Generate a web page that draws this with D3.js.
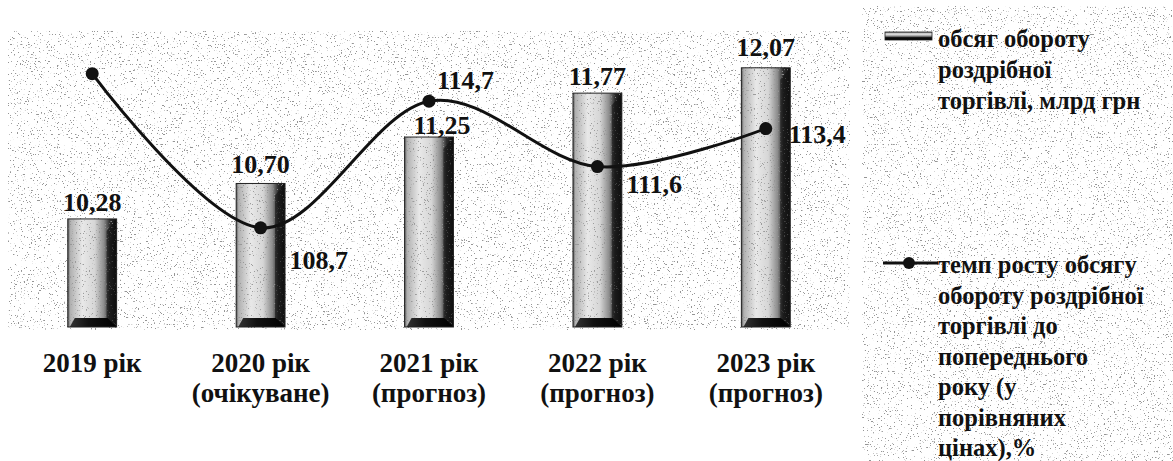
<!DOCTYPE html>
<html>
  <head>
    <meta charset="utf-8">
    <title>Оборот роздрібної торгівлі</title>
    <style>
      body { margin: 0; background: #fff; }
      svg { display: block; }
      text { font-family: "Liberation Serif", "Times New Roman", serif; fill: #111; }
    </style>
    <script src="https://d3js.org/d3.v7.min.js"></script>
  </head>
  <body>
    <svg id="chart"></svg>
    <script>
      // data
      var years = ["2019 рік", "2020 рік", "2021 рік", "2022 рік", "2023 рік"];
      var notes = ["", "(очікуване)", "(прогноз)", "(прогноз)", "(прогноз)"];
      var turnover = [10.28, 10.70, 11.25, 11.77, 12.07];        // млрд грн
      var turnoverLabels = ["10,28", "10,70", "11,25", "11,77", "12,07"];
      var growth = [116.0, 108.7, 114.7, 111.6, 113.4];           // %
      var growthLabels = ["", "108,7", "114,7", "111,6", "113,4"];
      var legendBar = ["обсяг обороту", "роздрібної", "торгівлі, млрд грн"];
      var legendLine = ["темп росту обсягу", "обороту роздрібної", "торгівлі до",
                        "попереднього", "року (у", "порівняних", "цінах),%"];

      var width = 1173, height = 461;
      var plot = {left: 8, right: 850, top: 31.5, bottom: 327};

      var svg = d3.select("#chart").attr("width", width).attr("height", height);
      var defs = svg.append("defs");

      // speckled "scanned" texture
      var f = defs.append("filter").attr("id", "speckle")
          .attr("x", 0).attr("y", 0).attr("width", 1).attr("height", 1);
      f.append("feTurbulence").attr("type", "fractalNoise")
          .attr("baseFrequency", 0.7).attr("numOctaves", 2).attr("seed", 7);
      f.append("feColorMatrix").attr("type", "matrix")
          .attr("values", "0 0 0 0 0.3  0 0 0 0 0.3  0 0 0 0 0.3  -16 0 0 0 5.45");

      var g1 = defs.append("linearGradient").attr("id", "barGrad");
      [["0%", "#555"], ["5%", "#b0b0b0"], ["30%", "#e8e8e8"], ["55%", "#d6d6d6"],
       ["74%", "#8c8c8c"], ["86%", "#2c2c2c"], ["100%", "#0c0c0c"]]
        .forEach(function(s) { g1.append("stop").attr("offset", s[0]).attr("stop-color", s[1]); });

      var g2 = defs.append("linearGradient").attr("id", "baseGrad")
          .attr("x1", 0).attr("x2", 1).attr("y1", 0).attr("y2", 0);
      [["0%", "#333"], ["40%", "#111"], ["100%", "#000"]]
        .forEach(function(s) { g2.append("stop").attr("offset", s[0]).attr("stop-color", s[1]); });

      var g3 = defs.append("linearGradient").attr("id", "legGrad")
          .attr("x1", 0).attr("x2", 0).attr("y1", 0).attr("y2", 1);
      [["0%", "#666"], ["25%", "#eee"], ["50%", "#999"], ["70%", "#111"], ["100%", "#000"]]
        .forEach(function(s) { g3.append("stop").attr("offset", s[0]).attr("stop-color", s[1]); });

      // textured backgrounds
      svg.append("rect").attr("x", plot.left).attr("y", plot.top)
          .attr("width", plot.right - plot.left).attr("height", plot.bottom + 3 - plot.top)
          .attr("filter", "url(#speckle)");
      svg.append("rect").attr("x", 862).attr("y", 6)
          .attr("width", width - 862).attr("height", height - 6)
          .attr("filter", "url(#speckle)");

      var x = d3.scaleBand().domain(years)
          .range([plot.left, plot.right])
          .paddingInner(0.71).paddingOuter(0.355);
      var yBar = d3.scaleLinear().domain([9, 12.5]).range([plot.bottom, plot.top]);
      var yLine = d3.scaleLinear().domain([104, 118]).range([plot.bottom, plot.top]);

      var bw = x.bandwidth();
      var bars = svg.append("g").selectAll("g").data(turnover).join("g")
          .attr("transform", function(d, i) { return "translate(" + x(years[i]) + ",0)"; });

      bars.append("rect")
          .attr("x", 0).attr("y", function(d) { return yBar(d); })
          .attr("width", bw).attr("height", function(d) { return plot.bottom - yBar(d); })
          .attr("fill", "url(#barGrad)");
      bars.append("rect")
          .attr("x", 0).attr("y", function(d) { return yBar(d); })
          .attr("width", bw).attr("height", function(d) { return plot.bottom - yBar(d); })
          .attr("filter", "url(#speckle)").attr("opacity", 0.9);
      // dark bevels on the right and at the base
      bars.append("path")
          .attr("d", function(d) {
            var t = yBar(d), b = plot.bottom;
            return "M" + (bw - 10) + "," + (t + 12) + "L" + bw + "," + t + "L" + bw + "," + b +
                   "L" + (bw - 10) + "," + (b - 9) + "Z";
          })
          .attr("fill", "#111").attr("opacity", 0.6);
      bars.append("path")
          .attr("d", function(d) {
            var b = plot.bottom;
            return "M2," + b + "L7," + (b - 9) + "L" + (bw - 9) + "," + (b - 9) +
                   "L" + bw + "," + b + "Z";
          })
          .attr("fill", "url(#baseGrad)");
      bars.append("rect")
          .attr("x", 0).attr("y", function(d) { return yBar(d); })
          .attr("width", bw).attr("height", function(d) { return plot.bottom - yBar(d); })
          .attr("fill", "none").attr("stroke", "#222").attr("stroke-width", 1);

      // value labels over bars
      var barLabelShift = [[0, 0], [0, -2], [13, 5], [0, 0], [0, -4]];
      svg.append("g").selectAll("text").data(turnover).join("text")
          .attr("x", function(d, i) { return x(years[i]) + bw / 2 + barLabelShift[i][0]; })
          .attr("y", function(d, i) { return yBar(d) - 8 + barLabelShift[i][1]; })
          .attr("text-anchor", "middle")
          .attr("font-size", 26).attr("font-weight", "bold")
          .text(function(d, i) { return turnoverLabels[i]; });

      // growth line
      var pts = growth.map(function(d, i) { return [x(years[i]) + bw / 2, yLine(d)]; });
      var line = d3.line().curve(d3.curveCardinal.tension(0));
      svg.append("path").attr("d", line(pts))
          .attr("fill", "none").attr("stroke", "#111").attr("stroke-width", 3);
      svg.append("g").selectAll("circle").data(pts).join("circle")
          .attr("cx", function(d) { return d[0]; }).attr("cy", function(d) { return d[1]; })
          .attr("r", 6.5).attr("fill", "#111");

      var lineLabelShift = [[0, 0], [29, 41], [8, -12], [29, 26], [23, 14]];
      svg.append("g").selectAll("text").data(pts).join("text")
          .attr("x", function(d, i) { return d[0] + lineLabelShift[i][0]; })
          .attr("y", function(d, i) { return d[1] + lineLabelShift[i][1]; })
          .attr("font-size", 26).attr("font-weight", "bold")
          .text(function(d, i) { return growthLabels[i]; });

      // category labels, two lines each
      var cat = svg.append("g").selectAll("g").data(years).join("g");
      cat.append("text")
          .attr("x", function(d) { return x(d) + bw / 2; }).attr("y", 372)
          .attr("text-anchor", "middle")
          .attr("font-size", 27).attr("font-weight", "bold")
          .text(function(d) { return d; });
      cat.append("text")
          .attr("x", function(d) { return x(d) + bw / 2; }).attr("y", 402)
          .attr("text-anchor", "middle")
          .attr("font-size", 27).attr("font-weight", "bold")
          .text(function(d, i) { return notes[i]; });

      // legend
      var leg = svg.append("g");
      leg.append("rect").attr("x", 885).attr("y", 32).attr("width", 47).attr("height", 8)
          .attr("fill", "url(#legGrad)").attr("stroke", "#222").attr("stroke-width", 0.8);
      leg.selectAll("text.lb").data(legendBar).join("text").attr("class", "lb")
          .attr("x", 938).attr("y", function(d, i) { return 47 + i * 31; })
          .attr("font-size", 24.5).attr("font-weight", "bold")
          .text(function(d) { return d; });

      leg.append("line").attr("x1", 883).attr("x2", 938).attr("y1", 263).attr("y2", 263)
          .attr("stroke", "#111").attr("stroke-width", 3);
      leg.append("circle").attr("cx", 909).attr("cy", 263).attr("r", 6).attr("fill", "#111");
      leg.selectAll("text.ll").data(legendLine).join("text").attr("class", "ll")
          .attr("x", 938).attr("y", function(d, i) { return 273 + i * 30.5; })
          .attr("font-size", 24.5).attr("font-weight", "bold")
          .text(function(d) { return d; });
    </script>
  </body>
</html>
